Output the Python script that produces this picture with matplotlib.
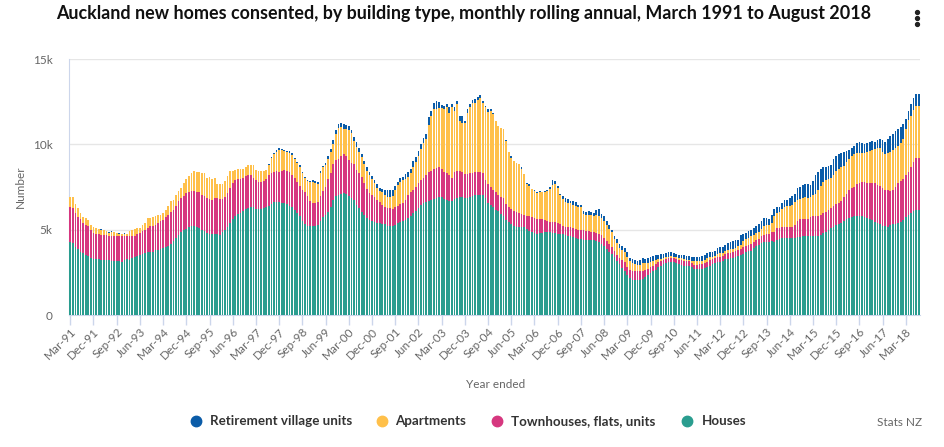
import numpy as np
import pandas as pd
import matplotlib
matplotlib.use("Agg")
import matplotlib.pyplot as plt
from matplotlib.transforms import ScaledTranslation
from matplotlib.lines import Line2D

# ---------------- data (monthly rolling annual counts, Mar-1991 .. Aug-2018) ----------------
houses = [
    4250, 4200, 4000, 3860, 3720, 3630, 3530, 3430, 3330, 3270,
    3270, 3300, 3200, 3200, 3200, 3200, 3180, 3180, 3180, 3140,
    3100, 3240, 3270, 3250, 3330, 3400, 3470, 3530, 3590, 3630,
    3670, 3700, 3720, 3780, 3820, 3860, 3920, 3980, 4060, 4180,
    4310, 4500, 4700, 4880, 4960, 5040, 5140, 5200, 5240, 5160,
    5080, 5000, 4900, 4800, 4760, 4720, 4760, 4740, 4700, 4840,
    4980, 5150, 5390, 5630, 5780, 5910, 5990, 6070, 6200, 6280,
    6310, 6310, 6240, 6230, 6240, 6250, 6310, 6400, 6500, 6600,
    6620, 6600, 6580, 6560, 6510, 6400, 6300, 6150, 5960, 5780,
    5530, 5350, 5240, 5240, 5210, 5210, 5300, 5490, 5720, 5850,
    6050, 6350, 6750, 6980, 7060, 7100, 7120, 7080, 6950, 6840,
    6760, 6450, 6250, 6050, 5850, 5660, 5570, 5500, 5450, 5390,
    5390, 5360, 5330, 5220, 5200, 5220, 5290, 5370, 5450, 5520,
    5590, 5680, 5820, 5950, 6120, 6270, 6460, 6570, 6640, 6670,
    6750, 6800, 6880, 6940, 6900, 6800, 6720, 6670, 6670, 6820,
    6880, 6920, 6920, 6850, 6850, 6920, 6980, 7060, 7060, 7060,
    7020, 6840, 6590, 6420, 6300, 6160, 6080, 5920, 5800, 5590,
    5450, 5350, 5240, 5150, 5150, 5150, 5130, 5040, 4930, 4850,
    4790, 4760, 4790, 4820, 4840, 4840, 4840, 4820, 4790, 4760,
    4760, 4720, 4680, 4640, 4600, 4580, 4530, 4480, 4450, 4410,
    4410, 4410, 4400, 4370, 4320, 4250, 4160, 4020, 3860, 3680,
    3570, 3370, 3140, 2960, 2750, 2600, 2330, 2160, 2080, 2060,
    2060, 2060, 2120, 2220, 2330, 2450, 2550, 2660, 2800, 2900,
    2990, 3050, 3080, 3120, 3110, 3050, 3000, 2950, 2900, 2880,
    2880, 2800, 2700, 2690, 2690, 2690, 2740, 2820, 2900, 2960,
    3040, 3110, 3130, 3180, 3270, 3310, 3330, 3340, 3370, 3460,
    3520, 3600, 3680, 3730, 3770, 3900, 4030, 4130, 4210, 4250,
    4260, 4280, 4310, 4260, 4380, 4440, 4500, 4520, 4520, 4510,
    4510, 4510, 4570, 4570, 4600, 4650, 4650, 4630, 4610, 4610,
    4620, 4700, 4780, 4880, 5000, 5100, 5180, 5250, 5320, 5400,
    5480, 5600, 5700, 5760, 5780, 5780, 5780, 5780, 5760, 5660,
    5620, 5550, 5450, 5370, 5310, 5240, 5190, 5170, 5260, 5310,
    5350, 5400, 5470, 5580, 5720, 5840, 5980, 6080, 6130, 6140,
]
townhouses = [
    2060, 2070, 2000, 1890, 1880, 1770, 1770, 1770, 1670, 1530,
    1480, 1450, 1500, 1500, 1470, 1400, 1420, 1420, 1420, 1460,
    1500, 1360, 1330, 1400, 1320, 1250, 1260, 1270, 1310, 1370,
    1430, 1500, 1520, 1520, 1580, 1630, 1670, 1770, 1820, 1840,
    1870, 1910, 1970, 1980, 2040, 2120, 2060, 2050, 2010, 2040,
    2120, 2060, 2060, 2060, 2040, 2040, 2100, 2120, 2080, 1980,
    1960, 1980, 2060, 2130, 2110, 2040, 1990, 1960, 1920, 1900,
    1870, 1730, 1660, 1570, 1530, 1610, 1650, 1800, 1830, 1750,
    1810, 1790, 1880, 1960, 1920, 1950, 1900, 1850, 1860, 1800,
    1810, 1830, 1760, 1430, 1380, 1370, 1350, 1470, 1550, 1650,
    1900, 1950, 2100, 2080, 2090, 2200, 2290, 2220, 2150, 2060,
    2060, 2050, 2050, 2050, 1900, 1740, 1580, 1550, 1450, 1360,
    1210, 1090, 1000, 1060, 1050, 1020, 1020, 1030, 1050, 1050,
    1170, 1350, 1400, 1400, 1380, 1480, 1440, 1470, 1560, 1720,
    1710, 1750, 1760, 1710, 1630, 1600, 1580, 1530, 1370, 1530,
    1570, 1530, 1470, 1430, 1420, 1380, 1360, 1330, 1290, 1320,
    1300, 1050, 1080, 1080, 1050, 1060, 980, 1020, 1050, 910,
    900, 850, 840, 880, 840, 780, 750, 780, 860, 890,
    900, 890, 840, 790, 710, 650, 610, 620, 630, 620,
    580, 500, 500, 520, 550, 540, 500, 500, 510, 550,
    510, 490, 490, 470, 490, 490, 500, 500, 450, 480,
    430, 370, 390, 390, 460, 480, 480, 490, 500, 490,
    490, 490, 460, 420, 370, 350, 330, 300, 280, 270,
    260, 240, 240, 220, 210, 220, 240, 260, 280, 270,
    260, 240, 240, 250, 270, 300, 300, 310, 320, 300,
    290, 260, 280, 280, 320, 310, 330, 350, 360, 320,
    330, 360, 350, 390, 410, 390, 380, 340, 420, 460,
    490, 480, 530, 630, 700, 670, 640, 630, 620, 620,
    620, 750, 920, 1030, 1030, 980, 980, 1120, 1180, 1190,
    1190, 1170, 1200, 1170, 1140, 1170, 1200, 1230, 1250, 1290,
    1420, 1510, 1600, 1660, 1730, 1890, 1960, 2000, 2020, 2100,
    2110, 2160, 2260, 2240, 2240, 2200, 2150, 2140, 1990, 1990,
    2150, 2360, 2360, 2400, 2480, 2560, 2710, 2900, 3050, 3080,
]
apartments = [
    630, 630, 500, 520, 380, 350, 390, 350, 300, 360,
    350, 290, 300, 260, 230, 200, 280, 240, 200, 160,
    120, 160, 150, 250, 350, 390, 350, 300, 400, 400,
    590, 490, 510, 520, 460, 390, 410, 430, 490, 650,
    580, 650, 580, 590, 750, 780, 940, 1080, 1180, 1170,
    1190, 1270, 1370, 1180, 1280, 1180, 1180, 790, 870, 830,
    900, 1010, 980, 670, 590, 580, 550, 500, 580, 580,
    580, 720, 600, 630, 660, 570, 550, 600, 870, 1060,
    1150, 1290, 1190, 1080, 1120, 1170, 1200, 1150, 1080, 1100,
    960, 820, 840, 1110, 1230, 1170, 1050, 1370, 1380, 1300,
    1200, 1250, 1150, 1540, 1800, 1700, 1490, 1600, 1750, 1750,
    1380, 1350, 1250, 1150, 1100, 1050, 1050, 900, 850, 700,
    650, 750, 730, 620, 670, 760, 1040, 1200, 1300, 1330,
    1220, 1070, 1110, 1350, 1450, 1550, 1800, 2010, 2100, 2760,
    3190, 3500, 3420, 3450, 3570, 3660, 3860, 3660, 4120, 3610,
    3900, 2920, 2880, 2990, 3590, 3860, 4060, 4060, 4250, 4320,
    4100, 4310, 4230, 4460, 4410, 4150, 4020, 4010, 4050, 3700,
    3200, 3000, 2920, 2900, 2860, 2620, 2370, 1830, 1780, 1660,
    1560, 1510, 1570, 1570, 1650, 1780, 1940, 2160, 2280, 2070,
    1710, 1580, 1470, 1410, 1400, 1350, 1370, 1370, 1340, 940,
    920, 960, 970, 950, 1040, 1060, 1040, 1010, 990, 900,
    850, 710, 670, 590, 620, 620, 610, 490, 480, 450,
    390, 400, 440, 380, 360, 320, 300, 260, 180, 140,
    100, 100, 100, 100, 100, 100, 100, 110, 100, 100,
    100, 150, 200, 200, 200, 190, 200, 190, 170, 150,
    140, 220, 220, 200, 140, 190, 190, 200, 190, 240,
    260, 390, 400, 390, 430, 400, 370, 400, 390, 500,
    530, 530, 550, 900, 880, 900, 1050, 1170, 1220, 1280,
    1320, 1340, 1240, 1190, 1220, 1270, 1240, 1170, 1230, 1300,
    1490, 1680, 1800, 1850, 1830, 1770, 1820, 1940, 2010, 2010,
    1850, 1860, 1860, 1880, 1900, 1830, 1770, 1690, 1690, 1820,
    1880, 1940, 1990, 2170, 2210, 2110, 2080, 2170, 2330, 2370,
    2300, 2160, 2230, 2320, 2700, 3000, 2980, 3040, 3040, 3030,
]
retirement = [
    0, 0, 0, 0, 0, 0, 0, 0, 0, 0,
    0, 20, 50, 20, 0, 50, 20, 20, 20, 60,
    30, 20, 0, 0, 0, 0, 0, 0, 0, 0,
    0, 0, 0, 0, 0, 0, 0, 0, 0, 0,
    0, 0, 0, 0, 0, 0, 0, 0, 0, 0,
    0, 0, 0, 0, 0, 0, 0, 0, 0, 0,
    0, 0, 0, 0, 0, 0, 0, 0, 0, 0,
    0, 0, 0, 0, 0, 0, 0, 30, 50, 60,
    80, 100, 100, 80, 80, 80, 80, 70, 60, 80,
    100, 80, 60, 60, 80, 100, 100, 80, 100, 120,
    150, 200, 250, 250, 250, 250, 300, 250, 200, 200,
    250, 300, 250, 200, 200, 200, 200, 200, 150, 250,
    200, 200, 250, 450, 400, 350, 200, 200, 200, 200,
    300, 300, 200, 300, 330, 300, 300, 300, 330, 450,
    300, 400, 450, 400, 200, 200, 200, 300, 200, 200,
    200, 300, 400, 100, 200, 200, 200, 200, 200, 200,
    100, 50, 150, 100, 50, 0, 0, 0, 0, 50,
    0, 100, 0, 0, 0, 100, 0, 100, 100, 0,
    50, 50, 50, 50, 50, 50, 100, 300, 150, 100,
    50, 150, 200, 200, 150, 200, 250, 100, 150, 200,
    200, 250, 200, 200, 300, 400, 200, 250, 200, 200,
    150, 200, 250, 200, 200, 200, 250, 200, 200, 200,
    250, 250, 300, 290, 270, 280, 290, 290, 280, 260,
    250, 260, 250, 240, 230, 220, 200, 200, 240, 220,
    200, 230, 230, 250, 250, 250, 290, 330, 300, 280,
    290, 330, 340, 350, 390, 400, 440, 460, 490, 390,
    600, 400, 350, 390, 390, 390, 420, 450, 510, 450,
    400, 340, 490, 450, 350, 300, 400, 400, 400, 420,
    550, 500, 720, 710, 750, 790, 790, 700, 850, 1080,
    1060, 1000, 880, 800, 750, 760, 950, 920, 860, 820,
    800, 620, 520, 490, 490, 570, 600, 620, 530, 470,
    550, 520, 440, 500, 580, 680, 690, 830, 880, 950,
    1000, 1000, 980, 920, 600, 550, 680, 680, 700, 690,
]

tick_labels = ["Mar-91", "Dec-91", "Sep-92", "Jun-93", "Mar-94", "Dec-94", "Sep-95",
               "Jun-96", "Mar-97", "Dec-97", "Sep-98", "Jun-99", "Mar-00", "Dec-00",
               "Sep-01", "Jun-02", "Mar-03", "Dec-03", "Sep-04", "Jun-05", "Mar-06",
               "Dec-06", "Sep-07", "Jun-08", "Mar-09", "Dec-09", "Sep-10", "Jun-11",
               "Mar-12", "Dec-12", "Sep-13", "Jun-14", "Mar-15", "Dec-15", "Sep-16",
               "Jun-17", "Mar-18"]
y_ticks = [0, 5000, 10000, 15000]
y_tick_labels = ["0", "5k", "10k", "15k"]

series_names = ["Houses", "Townhouses, flats, units", "Apartments", "Retirement village units"]
series_colors = ["#2a9d8f", "#d6377f", "#ffc04a", "#0b5ca8"]

months = pd.date_range("1991-03-01", periods=len(houses), freq="MS")
month_labels = [d.strftime("%b-%y") for d in months]

# ---------------- figure ----------------
W, H = 944, 447
FONT = "Lato"
plt.rcParams["font.family"] = [FONT, "DejaVu Sans"]
fig = plt.figure(figsize=(W / 100, H / 100), dpi=100)
fig.patch.set_facecolor("white")

def fx(px):
    return px / W

def fy(py):
    return 1 - py / H

L, R, T, B = 69, 920, 59, 315
ax = fig.add_axes([fx(L), fy(B), fx(R) - fx(L), fy(T) - fy(B)])

x = np.arange(len(months))
bottom = np.zeros(len(months))
for vals, col in zip([houses, townhouses, apartments, retirement], series_colors):
    v = np.array(vals, dtype=float)
    ax.bar(x, v, width=0.68, bottom=bottom, color=col, linewidth=0, zorder=3)
    bottom += v

ax.set_xlim(-0.5, len(months) - 0.5)
ax.set_ylim(0, 15000)
ax.set_yticks(y_ticks)
ax.set_yticklabels(y_tick_labels)
ax.yaxis.grid(True, color="#e6e6e6", linewidth=1, zorder=0)
ax.set_axisbelow(True)

tick_pos = [month_labels.index(t) for t in tick_labels]
ax.set_xticks(tick_pos)
ax.set_xticklabels(tick_labels, rotation=45, ha="right", va="top",
                   rotation_mode="anchor")
off = ScaledTranslation(10 / 100, 0, fig.dpi_scale_trans)
for lbl in ax.get_xticklabels():
    lbl.set_transform(lbl.get_transform() + off)

ax.tick_params(axis="x", direction="out", length=7, width=1, color="#ccd6eb",
               labelsize=8.5, labelcolor="#666666", pad=1)
ax.tick_params(axis="y", length=0, labelsize=8.5, labelcolor="#666666", pad=12)

for s in ["top", "right"]:
    ax.spines[s].set_visible(False)
ax.spines["left"].set_color("#ccd6eb")
ax.spines["bottom"].set_color("#ccd6eb")

fig.text(fx(20), fy(187), "Number", rotation=90, ha="center", va="center",
         fontsize=8.5, color="#666666")
fig.text(fx(496), fy(384), "Year ended", ha="center", va="center",
         fontsize=8.5, color="#666666")

renderer = fig.canvas.get_renderer()

def fit_width(t, target):
    w = t.get_window_extent(renderer).width
    t.set_fontsize(t.get_fontsize() * target / w)
    return t.get_fontsize()

title = fig.text(fx(464), fy(13), "Auckland new homes consented, by building type, monthly "
                 "rolling annual, March 1991 to August 2018",
                 ha="center", va="center", fontsize=12, fontweight="bold", color="#111111")
fit_width(title, 808)

# legend (reverse stacking order)
leg_items = [
    (196, 210, series_names[3], series_colors[3]),
    (382, 395, series_names[2], series_colors[2]),
    (497, 511, series_names[1], series_colors[1]),
    (687, 702, series_names[0], series_colors[0]),
]
ly = 421
first = fig.text(fx(leg_items[0][1]), fy(ly), leg_items[0][2], ha="left", va="center",
                 fontsize=10, fontweight="bold", color="#333333")
fs = fit_width(first, 141)
for i, (cx, tx, name, col) in enumerate(leg_items):
    fig.add_artist(Line2D([fx(cx)], [fy(ly)], marker="o", markersize=7.5, color=col,
                          linestyle="none", transform=fig.transFigure))
    if i > 0:
        fig.text(fx(tx), fy(ly), name, ha="left", va="center", fontsize=fs,
                 fontweight="bold", color="#333333")

fig.text(fx(922), fy(423), "Stats NZ", ha="right", va="center", fontsize=8.5,
         color="#666666")

# menu icon
for yy in (12, 18, 24):
    fig.add_artist(Line2D([fx(917)], [fy(yy)], marker="o", markersize=2.8,
                          color="#222222", linestyle="none", transform=fig.transFigure))

fig.savefig("out.png", dpi=100, facecolor="white")
